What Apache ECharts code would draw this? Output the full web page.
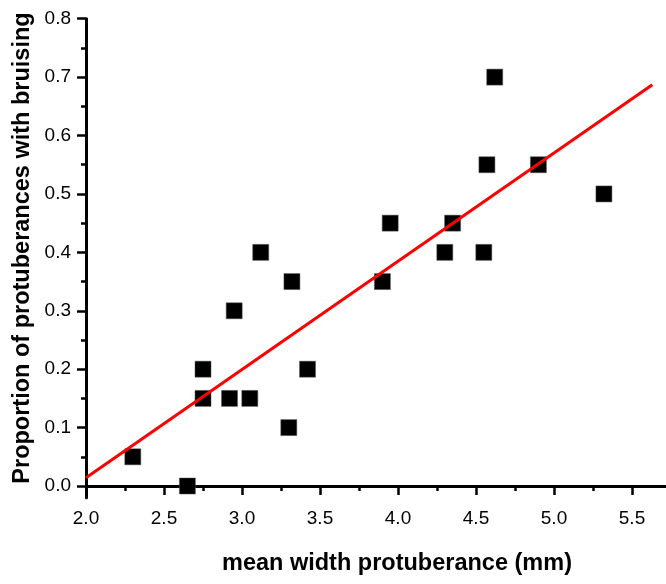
<!DOCTYPE html>
<html>
<head>
<meta charset="utf-8">
<script src="https://cdn.jsdelivr.net/npm/echarts@6/dist/echarts.min.js"></script>
<style>html,body{margin:0;padding:0;background:#fff;}#c{width:666px;height:584px;}</style>
</head>
<body>
<div id="c"></div>
<script>
const xValues = [2.30, 2.65, 2.75, 2.75, 2.92, 2.95, 3.05, 3.12, 3.30, 3.32, 3.42, 3.90, 3.95, 4.30, 4.35, 4.55, 4.57, 4.62, 4.90, 5.32];
const yValues = [0.05, 0.00, 0.20, 0.15, 0.15, 0.30, 0.15, 0.40, 0.10, 0.35, 0.20, 0.35, 0.45, 0.40, 0.45, 0.40, 0.55, 0.70, 0.55, 0.50];
const fitX = [2.0, 5.63];
const fitY = [0.014, 0.687];
const yTickLabels = [0, 0.1, 0.2, 0.3, 0.4, 0.5, 0.6, 0.7, 0.8];
const yMinorTicks = [0.05, 0.15, 0.25, 0.35, 0.45, 0.55, 0.65, 0.75];
const xTitle = 'mean width protuberance (mm)';
const yTitle = 'Proportion of protuberances with bruising';

const font = '"Liberation Sans", Arial, sans-serif';
const chart = echarts.init(document.getElementById('c'));
const axisLine = {show: true, lineStyle: {color: '#000', width: 3}};
chart.setOption({
  animation: false,
  backgroundColor: '#fff',
  grid: {left: 86, right: -44, top: 18.7, bottom: 86.3, containLabel: false, outerBoundsMode: 'none'},
  xAxis: {
    type: 'value', min: 2.0, max: 6.0, interval: 0.5,
    axisLine: axisLine,
    axisTick: {show: true, length: 9, lineStyle: {color: '#000', width: 2.5}},
    minorTick: {show: true, splitNumber: 2, length: 5, lineStyle: {color: '#000', width: 2.5}},
    splitLine: {show: false},
    axisLabel: {color: '#000', fontSize: 19, fontFamily: font, margin: 12, formatter: v => v.toFixed(1)}
  },
  yAxis: [{
    type: 'value', min: -0.02, max: 0.8,
    axisLine: axisLine,
    axisTick: {show: true, length: 9, customValues: yTickLabels, lineStyle: {color: '#000', width: 2.5}},
    splitLine: {show: false},
    axisLabel: {color: '#000', fontSize: 19, fontFamily: font, margin: 15, customValues: yTickLabels, formatter: v => v.toFixed(1)}
  }, {
    type: 'value', min: -0.02, max: 0.8, position: 'left',
    axisLine: {show: false},
    axisTick: {show: true, length: 5, customValues: yMinorTicks, lineStyle: {color: '#000', width: 2.5}},
    splitLine: {show: false},
    axisLabel: {show: false}
  }],
  graphic: [
    {type: 'text', x: 397, y: 564, style: {text: xTitle, font: 'bold 23.5px ' + font, fill: '#000', align: 'center', verticalAlign: 'middle'}},
    {type: 'text', x: 22.5, y: 248, rotation: Math.PI / 2, style: {text: yTitle, font: 'bold 23.5px ' + font, fill: '#000', align: 'center', verticalAlign: 'middle'}}
  ],
  series: [{
    type: 'scatter',
    symbol: 'rect', symbolSize: 16,
    itemStyle: {color: '#000', borderColor: '#555', borderWidth: 0.5, opacity: 1},
    data: xValues.map((x, i) => [x, yValues[i]]),
    z: 3
  }, {
    type: 'line',
    showSymbol: false, symbol: 'none',
    lineStyle: {color: '#ff0000', width: 3},
    data: fitX.map((x, i) => [x, fitY[i]]),
    z: 4
  }]
});
</script>
</body>
</html>
